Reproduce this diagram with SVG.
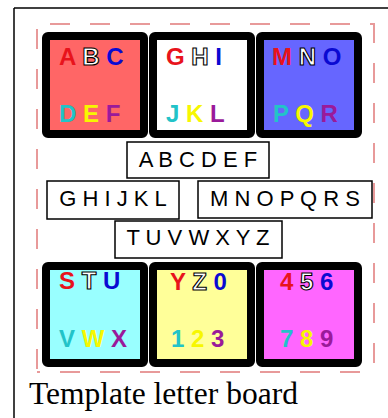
<svg xmlns="http://www.w3.org/2000/svg" width="388" height="418" viewBox="0 0 388 418">
<style>
.tile{stroke:#000;stroke-width:8;stroke-linejoin:round}
.lt{font-family:"Liberation Sans",Arial,sans-serif;font-weight:bold;font-size:24px}
.r{fill:#e8131c}.w{fill:#fff;stroke:#000;stroke-width:1.1}.b{fill:#0a0ad2}
.c{fill:#22c3c8}.y{fill:#f7f700}.p{fill:#9a1a9a}
.box{fill:#fff;stroke:#000;stroke-width:1.5}
.bt{font-family:"Liberation Sans",Arial,sans-serif;font-size:22px;fill:#000;text-anchor:middle}
.dash{stroke:#e89a9a;stroke-width:2;stroke-dasharray:20 20;fill:none}
</style>
<rect width="388" height="418" fill="#fff"/>
<g id="frame">
<line x1="14" y1="8" x2="388" y2="8" stroke="#000" stroke-width="1.5"/>
<line x1="14" y1="8" x2="14" y2="418" stroke="#000" stroke-width="1.5"/>
</g>
<g id="boundary">
<line class="dash" x1="50" y1="24" x2="374" y2="24"/>
<line class="dash" x1="374" y1="23" x2="374" y2="372"/>
<line class="dash" x1="37" y1="29" x2="37" y2="372"/>
<line class="dash" x1="37" y1="372" x2="374" y2="372" stroke-dashoffset="17"/>
</g>
<g id="connectors"/>
<g id="tile-abcdef">
<rect class="tile" x="46" y="36" width="98" height="98" rx="2" fill="#ff6666"/>
<text class="lt" x="59" y="65"><tspan class="r">A</tspan> <tspan class="w">B</tspan> <tspan class="b">C</tspan></text>
<text class="lt" x="59" y="122"><tspan class="c">D</tspan> <tspan class="y">E</tspan> <tspan class="p">F</tspan></text>
</g>
<g id="tile-ghijkl">
<rect class="tile" x="153" y="36" width="98" height="98" rx="2" fill="#ffffff"/>
<text class="lt" x="166" y="65"><tspan class="r">G</tspan> <tspan class="w">H</tspan> <tspan class="b">I</tspan></text>
<text class="lt" x="166" y="122"><tspan class="c">J</tspan> <tspan class="y">K</tspan> <tspan class="p">L</tspan></text>
</g>
<g id="tile-mnopqr">
<rect class="tile" x="260" y="36" width="98" height="98" rx="2" fill="#6666ff"/>
<text class="lt" x="272" y="65"><tspan class="r">M</tspan> <tspan class="w">N</tspan> <tspan class="b">O</tspan></text>
<text class="lt" x="273" y="122"><tspan class="c">P</tspan> <tspan class="y">Q</tspan> <tspan class="p">R</tspan></text>
</g>
<g id="box-abcdef">
<rect class="box" x="127" y="142" width="142" height="36"/>
<text class="bt" x="198" y="167">A B C D E F</text>
</g>
<g id="box-ghijkl">
<rect class="box" x="47" y="181" width="132" height="38"/>
<text class="bt" x="113" y="206">G H I J K L</text>
</g>
<g id="box-mnopqrs">
<rect class="box" x="198" y="181" width="174" height="37"/>
<text class="bt" x="285" y="206">M N O P Q R S</text>
</g>
<g id="box-tuvwxyz">
<rect class="box" x="115" y="221" width="167" height="37"/>
<text class="bt" x="198" y="245">T U V W X Y Z</text>
</g>
<g id="tile-stuvwx">
<rect class="tile" x="46" y="266" width="98" height="97" rx="2" fill="#99ffff"/>
<text class="lt" x="59" y="289"><tspan class="r">S</tspan> <tspan class="w">T</tspan> <tspan class="b">U</tspan></text>
<text class="lt" x="59" y="347"><tspan class="c">V</tspan> <tspan class="y">W</tspan> <tspan class="p">X</tspan></text>
</g>
<g id="tile-yz0123">
<rect class="tile" x="153" y="266" width="98" height="97" rx="2" fill="#ffff99"/>
<text class="lt" x="170" y="290"><tspan class="r">Y</tspan> <tspan class="w">Z</tspan> <tspan class="b">0</tspan></text>
<text class="lt" x="171" y="347"><tspan class="c">1</tspan> <tspan class="y">2</tspan> <tspan class="p">3</tspan></text>
</g>
<g id="tile-456789">
<rect class="tile" x="260" y="266" width="98" height="97" rx="2" fill="#ff66ff"/>
<text class="lt" x="280" y="290"><tspan class="r">4</tspan> <tspan class="w">5</tspan> <tspan class="b">6</tspan></text>
<text class="lt" x="280" y="347"><tspan class="c">7</tspan> <tspan class="y">8</tspan> <tspan class="p">9</tspan></text>
</g>
<text x="29" y="404" font-family="'Liberation Serif','Times New Roman',serif" font-size="31.5" fill="#000">Template letter board</text>
</svg>
